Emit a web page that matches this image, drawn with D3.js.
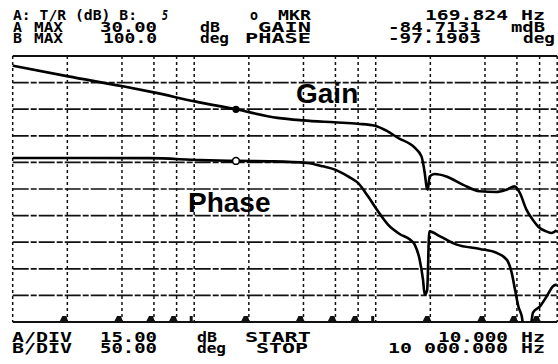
<!DOCTYPE html>
<html>
<head>
<meta charset="utf-8">
<script src="https://cdn.jsdelivr.net/npm/d3@7"></script>
<style>
  html, body { margin: 0; padding: 0; background: #fff; }
  svg { display: block; }
</style>
</head>
<body>
<svg id="chart" width="558" height="364"></svg>
<script>
// --- data ---
const gainFreq = [10, 20.2, 40.5, 59.8, 101, 169.8, 288, 397, 594, 797, 990, 1164, 1323, 1640, 1787, 1862, 1910, 1935, 1984, 2114, 2454, 3016, 3738, 4621, 5246, 5830, 6215, 6767, 7333, 8017, 8724, 9299, 9937];
const gainDb   = [24.5, 18.5, 12.9, 9.5, 4.4, -0.08, -4.9, -6.3, -7.4, -8.2, -9.3, -12.5, -16.1, -21.7, -26.6, -35.8, -44.2, -45.4, -37.9, -36.5, -37.9, -42.5, -46.3, -46.7, -45.4, -43.5, -47.1, -56.6, -62.3, -67.0, -68.9, -69.8, -68.3];

const phaseFreq = [10, 57.1, 107.6, 169.8, 271.8, 418.3, 512.4, 596.8, 703.8, 798.9, 906.9, 1029.7, 1168.8, 1360.9, 1545, 1640, 1747, 1822, 1862, 1921, 1974, 2262, 2795, 3755, 4642, 5270, 5616, 5855, 6106, 6378, 6566, 7081, 7356, 8038, 8753, 9482, 9936];
const phaseDeg  = [-91.7, -92.0, -95.8, -97.19, -98.0, -101.1, -107.4, -113.6, -126.2, -138.6, -163.8, -192.0, -217.0, -235.0, -245.0, -254.6, -282.8, -320.4, -348.6, -340.0, -229.6, -239.0, -254.6, -262.6, -270.2, -282.8, -307.7, -339.1, -370.5, -389.3, -414.3, -414.3, -382.3, -370.5, -351.7, -332.9, -329.7];

const gridFreqs  = [10, 20, 40, 60, 80, 100, 200, 400, 600, 800, 1000, 2000, 4000, 6000, 8000, 10000];
const gainTicks  = [30, 15, 0, -15, -30, -45, -60, -75, -90, -105, -120];
const markerFreq = 169.824;
const markerGain = -0.0847131;
const markerPhase = -97.1903;

// screen annotations: [text, x, baseline, width]
const headerText = [
  ["A: T/R (dB) B:", 13, 20, 124], ["5", 162, 20, 6], ["o", 250, 20, 8], ["MKR", 278, 20, 33],
  ["169.824", 425, 20, 83], ["Hz", 521, 20, 24],
  ["A", 13, 32, 9], ["MAX", 34, 32, 29], ["30.00", 100, 32, 57], ["dB", 200, 32, 20],
  ["GAIN", 258, 32, 53], ["-84.7131", 388, 32, 93], ["mdB", 511, 32, 34],
  ["B", 13, 43, 9], ["MAX", 34, 43, 29], ["100.0", 103, 43, 54], ["deg", 200, 43, 29],
  ["PHASE", 245, 43, 66], ["-97.1903", 388, 43, 93], ["deg", 523, 43, 32]
];
const footerText = [
  ["A/DIV", 12, 342, 60], ["15.00", 100, 342, 57], ["dB", 197, 342, 20], ["START", 245, 342, 66],
  ["10.000", 438, 342, 70], ["Hz", 521, 342, 24],
  ["B/DIV", 12, 353, 60], ["50.00", 100, 353, 57], ["deg", 197, 353, 29], ["STOP", 256, 353, 52],
  ["10 000.000", 388, 353, 120], ["Hz", 521, 353, 24]
];

const plotLeft = 12.7, plotRight = 557.2, plotTop = 56, plotBottom = 322;

const x = d3.scaleLog().domain([10, 10000]).range([plotLeft, plotRight]);
const yGain = d3.scaleLinear().domain([-120, 30]).range([plotBottom, plotTop]);
const yPhase = d3.scaleLinear().domain([-400, 100]).range([plotBottom, plotTop]);

const svg = d3.select("#chart");

svg.append("defs").append("clipPath").attr("id", "plot")
  .append("rect")
  .attr("x", plotLeft - 2).attr("y", plotTop - 2)
  .attr("width", plotRight - plotLeft + 4).attr("height", plotBottom - plotTop + 2);

// grid
const grid = svg.append("g");
grid.selectAll("line.h")
  .data(gainTicks)
  .join("line")
  .attr("class", "h")
  .attr("x1", plotLeft).attr("x2", plotRight)
  .attr("y1", d => yGain(d)).attr("y2", d => yGain(d))
  .attr("stroke", "#111")
  .attr("stroke-width", d => (d === 30 || d === -120) ? 2.2 : 1.7)
  .attr("stroke-dasharray", d => (d === 30 || d === -120) ? null : "16,2,6,2");

grid.selectAll("line.v")
  .data(gridFreqs)
  .join("line")
  .attr("class", "v")
  .attr("x1", d => x(d)).attr("x2", d => x(d))
  .attr("y1", plotTop).attr("y2", plotBottom)
  .attr("stroke", "#111")
  .attr("stroke-width", 1.5)
  .attr("stroke-dasharray", "3,3");

// little tick mounds along the bottom edge
grid.selectAll("path.tick")
  .data(gridFreqs.filter(f => f !== 10 && f !== 10000))
  .join("path")
  .attr("class", "tick")
  .attr("d", d => {
    const cx = x(d) - 3;
    if (d === 100 || d === 1000) return `M${cx - 1.5},${plotBottom} L${cx - 1.5},${plotBottom - 6} L${cx + 1.5},${plotBottom - 6} L${cx + 1.5},${plotBottom} Z`;
    return `M${cx - 5},${plotBottom} L${cx - 2},${plotBottom - 6} L${cx + 2},${plotBottom - 6} L${cx + 4},${plotBottom} Z`;
  })
  .attr("fill", "#111");

// traces
const plot = svg.append("g").attr("clip-path", "url(#plot)");

const gainLine = d3.line()
  .x((d, i) => x(gainFreq[i]))
  .y(d => yGain(d))
  .curve(d3.curveMonotoneX);

const phaseLine = d3.line()
  .x((d, i) => x(phaseFreq[i]))
  .y(d => yPhase(d))
  .curve(d3.curveMonotoneX);

plot.append("path")
  .attr("d", gainLine(gainDb))
  .attr("fill", "none")
  .attr("stroke", "#000")
  .attr("stroke-width", 2.6)
  .attr("stroke-linejoin", "round");

plot.append("path")
  .attr("d", phaseLine(phaseDeg))
  .attr("fill", "none")
  .attr("stroke", "#000")
  .attr("stroke-width", 2.6)
  .attr("stroke-linejoin", "round");

// marker
plot.append("circle")
  .attr("cx", x(markerFreq)).attr("cy", yGain(markerGain))
  .attr("r", 3.6).attr("fill", "#000");
plot.append("circle")
  .attr("cx", x(markerFreq)).attr("cy", yPhase(markerPhase))
  .attr("r", 3.4).attr("fill", "#fff")
  .attr("stroke", "#000").attr("stroke-width", 1.6);

// trace names
svg.append("text")
  .attr("x", 296).attr("y", 103)
  .attr("font-family", "Liberation Sans, Arial, sans-serif")
  .attr("font-weight", "bold")
  .attr("font-size", 28)
  .text("Gain");
svg.append("text")
  .attr("x", 188).attr("y", 212)
  .attr("font-family", "Liberation Sans, Arial, sans-serif")
  .attr("font-weight", "bold")
  .attr("font-size", 28)
  .text("Phase");

// screen text
svg.append("g")
  .selectAll("text")
  .data(headerText.concat(footerText))
  .join("text")
  .attr("x", d => d[1])
  .attr("y", d => d[2])
  .attr("textLength", d => d[3])
  .attr("lengthAdjust", "spacingAndGlyphs")
  .attr("font-family", "DejaVu Sans Mono, monospace")
  .attr("font-weight", "bold")
  .attr("font-size", 13.5)
  .attr("fill", "#000")
  .attr("font-style", d => d[0] === "5" ? "italic" : null)
  .style("white-space", "pre")
  .text(d => d[0]);
</script>
</body>
</html>
